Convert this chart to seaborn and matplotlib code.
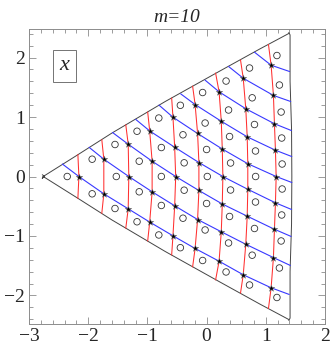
import matplotlib
matplotlib.use("Agg")
import matplotlib.pyplot as plt
import seaborn as sns
import numpy as np

# stars: one list per red curve (right to left), each listed top to bottom
star_x = [
    [1.090, 1.129, 1.146, 1.163, 1.175, 1.163, 1.146, 1.129, 1.090],
    [0.619, 0.662, 0.686, 0.696, 0.696, 0.686, 0.662, 0.619],
    [0.211, 0.248, 0.265, 0.275, 0.265, 0.248, 0.211],
    [-0.194, -0.152, -0.130, -0.130, -0.152, -0.194],
    [-0.568, -0.539, -0.522, -0.539, -0.568],
    [-0.961, -0.920, -0.920, -0.961],
    [-1.324, -1.314, -1.324],
    [-1.736, -1.736],
    [-2.157],
]
star_y = [
    [1.871, 1.363, 0.887, 0.442, 0.0, -0.442, -0.887, -1.363, -1.871],
    [1.652, 1.139, 0.667, 0.215, -0.215, -0.667, -1.139, -1.652],
    [1.424, 0.929, 0.462, 0.0, -0.462, -0.929, -1.424],
    [1.210, 0.723, 0.235, -0.235, -0.723, -1.210],
    [0.997, 0.492, 0.0, -0.492, -0.997],
    [0.766, 0.257, -0.257, -0.766],
    [0.543, 0.0, -0.543],
    [0.291, -0.291],
    [0.0],
]

# open circles, one list per column (right to left), top to bottom
circle_x = [
    [1.188, 1.230, 1.259, 1.269, 1.276, 1.276, 1.269, 1.259, 1.230, 1.188],
    [0.725, 0.770, 0.809, 0.826, 0.828, 0.826, 0.809, 0.770, 0.725],
    [0.329, 0.371, 0.388, 0.405, 0.405, 0.388, 0.371, 0.329],
    [-0.067, -0.025, 0.000, 0.012, 0.000, -0.025, -0.067],
    [-0.443, -0.399, -0.379, -0.379, -0.399, -0.443],
    [-0.807, -0.764, -0.764, -0.764, -0.807],
    [-1.175, -1.138, -1.138, -1.175],
    [-1.547, -1.525, -1.547],
    [-1.933, -1.933],
    [-2.354],
]
circle_y = [
    [2.034, 1.538, 1.084, 0.647, 0.210, -0.210, -0.647, -1.084, -1.538, -2.034],
    [1.824, 1.323, 0.874, 0.429, 0.0, -0.429, -0.874, -1.323, -1.824],
    [1.605, 1.118, 0.672, 0.227, -0.227, -0.672, -1.118, -1.605],
    [1.412, 0.899, 0.454, 0.0, -0.454, -0.899, -1.412],
    [1.197, 0.701, 0.230, -0.230, -0.701, -1.197],
    [0.983, 0.487, 0.0, -0.487, -0.983],
    [0.761, 0.257, -0.257, -0.761],
    [0.538, 0.0, -0.538],
    [0.291, -0.291],
    [0.0],
]

# ends of the red curves on the two left edges
red_top_x = [1.045, 0.573, 0.152, -0.236, -0.590, -0.995, -1.365, -1.770, -2.174]
red_top_y = [2.22, 1.96, 1.74, 1.52, 1.32, 1.085, 0.87, 0.62, 0.37]
red_bot_x = [1.045, 0.573, 0.152, -0.236, -0.590, -0.995, -1.365, -1.770, -2.174]
red_bot_y = [-2.22, -1.96, -1.74, -1.52, -1.32, -1.085, -0.87, -0.62, -0.37]

# ends of the blue curves (bottom curve first)
blue_left_x = [-2.436, -1.984, -1.589, -1.197, -0.804, -0.438, -0.025, 0.371, 0.809]
blue_left_y = [0.21, 0.49, 0.74, 0.96, 1.20, 1.39, 1.62, 1.85, 2.09]
blue_right_x = [1.395, 1.415, 1.428, 1.436, 1.440, 1.438, 1.432, 1.420, 1.402]
blue_right_y = [-1.983, -1.496, -1.008, -0.555, -0.101, 0.336, 0.773, 1.261, 1.765]

# outline of the region
edge_x = [-2.775, -2.735, -2.775, -2.76, -2.2, -1.6, -0.7, 0.2, 0.9, 1.38, 1.39, 1.41,
          1.41, 1.435, 1.44, 1.435, 1.41, 1.41, 1.39, 1.38, 0.9, 0.2, -0.7, -1.6, -2.2, -2.76, -2.775]
edge_y = [0.03, 0.0, -0.03, 0.0, 0.35, 0.73, 1.26, 1.76, 2.145, 2.40, 2.42, 2.38,
          1.6, 0.8, 0.0, -0.8, -1.6, -2.38, -2.42, -2.40, -2.145, -1.76, -1.26, -0.73, -0.35, 0.0, -0.03]

sns.set_style("ticks")
plt.rcParams["font.family"] = ["Liberation Serif", "DejaVu Serif"]

fig = plt.figure(figsize=(3.32, 3.51), dpi=100)
ax = fig.add_axes([0.0873, 0.0769, 0.8916, 0.8405])

sns.lineplot(x=edge_x, y=edge_y, sort=False, estimator=None, color="#444444", lw=0.7, ax=ax)

# red curves
for i in range(len(star_x)):
    xs = [red_top_x[i]] + star_x[i] + [red_bot_x[i]]
    ys = [red_top_y[i]] + star_y[i] + [red_bot_y[i]]
    sns.lineplot(x=xs, y=ys, sort=False, estimator=None, color="#ff3030", lw=0.75, ax=ax)

# blue curves
for b in range(len(blue_left_x)):
    cols = range(len(star_x) - 1 - b, -1, -1)
    xs = [blue_left_x[b]] + [star_x[i][-1 - b] for i in cols] + [blue_right_x[b]]
    ys = [blue_left_y[b]] + [star_y[i][-1 - b] for i in cols] + [blue_right_y[b]]
    sns.lineplot(x=xs, y=ys, sort=False, estimator=None, color="#3838ff", lw=0.8, ax=ax)

cx = [v for col in circle_x for v in col]
cy = [v for col in circle_y for v in col]
sns.scatterplot(x=cx, y=cy, marker="o", s=22, facecolor="none", edgecolor="#333333",
                linewidth=0.6, ax=ax, zorder=5)

sx = [v for col in star_x for v in col]
sy = [v for col in star_y for v in col]
sns.scatterplot(x=sx, y=sy, marker="*", s=26, color="black", edgecolor="#888888",
                linewidth=0.3, ax=ax, zorder=6)

ax.set_xlim(-3, 2)
ax.set_ylim(-2.48, 2.48)
ax.set_xticks(range(-3, 3))
ax.set_yticks(range(-2, 3))
ax.set_xticks(np.arange(-3, 2.01, 0.2), minor=True)
ax.set_yticks(np.arange(-2.4, 2.41, 0.2), minor=True)
ax.tick_params(which="both", direction="in", top=True, right=True, color="0.55", width=0.6,
               labelsize=14, pad=3)
ax.tick_params(which="major", length=5)
ax.tick_params(which="minor", length=2.8)
for s in ax.spines.values():
    s.set_color("0.55")
    s.set_linewidth(0.7)

ax.text(0.12, 0.875, "x", transform=ax.transAxes, fontsize=16, style="italic",
        ha="center", va="center",
        bbox=dict(boxstyle="square,pad=0.3", facecolor="white", edgecolor="0.45", lw=0.7))

ax.set_title("m=10", fontsize=14, style="italic", pad=5)

fig.savefig("out.png", dpi=100)
